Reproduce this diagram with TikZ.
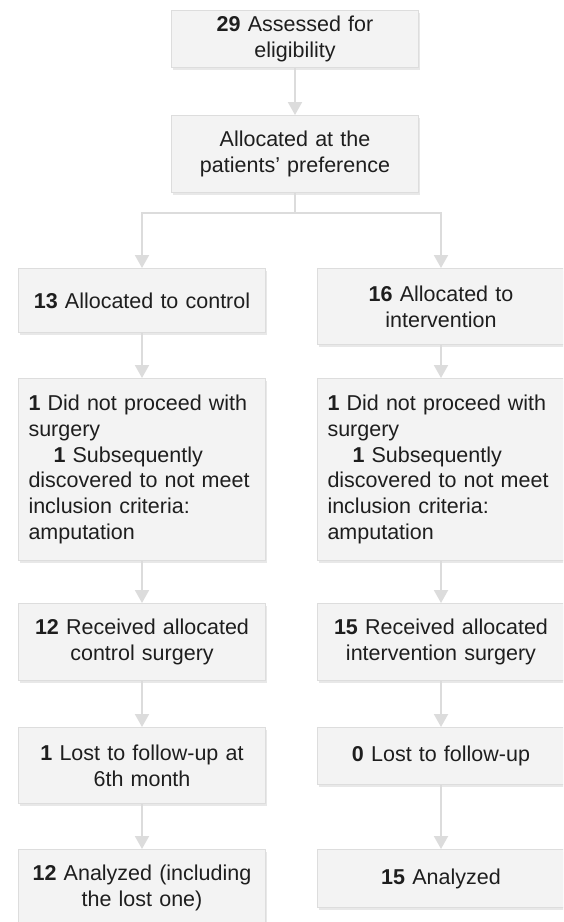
\documentclass[tikz,border=0pt]{standalone}
\usepackage{fontspec}
\setmainfont{Liberation Sans}
\usepackage{tikz}
\usetikzlibrary{arrows.meta, shadows}
\definecolor{boxfill}{RGB}{243, 243, 243}
\definecolor{boxline}{RGB}{221, 221, 221}
\definecolor{arrowgray}{RGB}{220, 220, 220}
\definecolor{inkgray}{RGB}{30, 30, 30}

\begin{document}
\begin{tikzpicture}[x=1pt, y=-1pt,
  flowbox/.style={draw=boxline, fill=boxfill, line width=1pt, anchor=north,
    minimum width=247pt, text width=227pt, inner xsep=10pt, inner ysep=0pt,
    align=center, text=inkgray, font=\fontsize{21.5}{25.7}\selectfont,
    drop shadow={opacity=0.18, shadow xshift=1.5pt, shadow yshift=-2pt}},
  leftbox/.style={flowbox, align=left},
  flowarrow/.style={draw=arrowgray, line width=2pt,
    -{Triangle[width=14pt, length=13pt]}}]
  \clip (0,0) rectangle (563,922);
  \fill[white] (0,0) rectangle (563,922);
  % top of the chart
  \node[flowbox, minimum height=57pt] (assess) at (295,10) {\textbf{29} Assessed for\\eligibility};
  \node[flowbox, minimum height=77pt] (pref) at (295,115) {Allocated at the\\patients’ preference};
  \coordinate (split) at (295,213);
  % control arm
  \node[flowbox, minimum height=64pt] (ctrl) at (142,268) {\textbf{13} Allocated to control};
  \node[leftbox, minimum height=182pt] (ctrlex) at (142,378) {\textbf{1} Did not proceed with\\surgery\\\hspace*{25pt}\textbf{1} Subsequently\\discovered to not meet\\inclusion criteria:\\amputation};
  \node[flowbox, minimum height=77pt] (ctrlrec) at (142,603) {\textbf{12} Received allocated\\control surgery};
  \node[flowbox, minimum height=76pt] (ctrllost) at (142,727) {\textbf{1} Lost to follow-up at\\6th month};
  \node[flowbox, minimum height=77pt] (ctrlana) at (142,849) {\textbf{12} Analyzed (including\\the lost one)};
  % intervention arm
  \node[flowbox, minimum height=76pt] (ivn) at (441,268) {\textbf{16} Allocated to\\intervention};
  \node[leftbox, minimum height=182pt] (ivnex) at (441,378) {\textbf{1} Did not proceed with\\surgery\\\hspace*{25pt}\textbf{1} Subsequently\\discovered to not meet\\inclusion criteria:\\amputation};
  \node[flowbox, minimum height=77pt] (ivnrec) at (441,603) {\textbf{15} Received allocated\\intervention surgery};
  \node[flowbox, minimum height=57pt] (ivnlost) at (441,727) {\textbf{0} Lost to follow-up};
  \node[flowbox, minimum height=58pt] (ivnana) at (441,849) {\textbf{15} Analyzed};
  % connectors
  \draw[flowarrow] (assess) -- (pref);
  \draw[flowarrow] (pref) -- (split) -| (ctrl.north);
  \draw[flowarrow] (pref) -- (split) -| (ivn.north);
  \draw[flowarrow] (ctrl) -- (ctrlex);
  \draw[flowarrow] (ctrlex) -- (ctrlrec);
  \draw[flowarrow] (ctrlrec) -- (ctrllost);
  \draw[flowarrow] (ctrllost) -- (ctrlana);
  \draw[flowarrow] (ivn) -- (ivnex);
  \draw[flowarrow] (ivnex) -- (ivnrec);
  \draw[flowarrow] (ivnrec) -- (ivnlost);
  \draw[flowarrow] (ivnlost) -- (ivnana);
\end{tikzpicture}
\end{document}
